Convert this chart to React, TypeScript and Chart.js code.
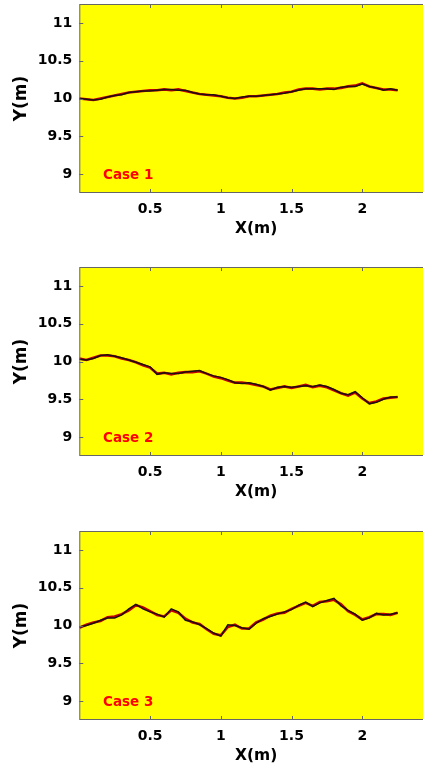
import React, { useEffect, useRef } from 'react';
import { Chart, registerables } from 'chart.js';

Chart.register(...registerables);

// ---------- data ----------
const X_M = [
  0.0, 0.05, 0.1, 0.15, 0.2, 0.25, 0.3, 0.35, 0.4, 0.45,
  0.5, 0.55, 0.6, 0.65, 0.7, 0.75, 0.8, 0.85, 0.9, 0.95,
  1.0, 1.05, 1.1, 1.15, 1.2, 1.25, 1.3, 1.35, 1.4, 1.45,
  1.5, 1.55, 1.6, 1.65, 1.7, 1.75, 1.8, 1.85, 1.9, 1.95,
  2.0, 2.05, 2.1, 2.15, 2.2, 2.25,
];

const CASE1_EST = [
  10.0, 9.99, 9.98, 9.99, 10.02, 10.04, 10.05, 10.08, 10.09, 10.1,
  10.1, 10.11, 10.12, 10.12, 10.11, 10.11, 10.08, 10.06, 10.05, 10.05,
  10.03, 10.01, 10.0, 10.02, 10.03, 10.03, 10.04, 10.05, 10.06, 10.07,
  10.09, 10.11, 10.13, 10.13, 10.13, 10.13, 10.12, 10.15, 10.16, 10.16,
  10.19, 10.16, 10.14, 10.11, 10.13, 10.11,
];
const CASE1_TRUE = [
  10.0, 9.99, 9.98, 10.0, 10.02, 10.04, 10.06, 10.08, 10.09, 10.1,
  10.11, 10.11, 10.12, 10.11, 10.12, 10.1, 10.08, 10.06, 10.05, 10.04,
  10.03, 10.01, 10.0, 10.01, 10.03, 10.03, 10.04, 10.05, 10.06, 10.08,
  10.09, 10.12, 10.13, 10.13, 10.12, 10.13, 10.13, 10.14, 10.16, 10.17,
  10.2, 10.16, 10.14, 10.12, 10.12, 10.11,
];

const CASE2_EST = [
  10.03, 10.02, 10.04, 10.08, 10.09, 10.07, 10.05, 10.02, 9.99, 9.96,
  9.93, 9.83, 9.85, 9.84, 9.84, 9.86, 9.87, 9.88, 9.84, 9.81,
  9.79, 9.76, 9.72, 9.71, 9.72, 9.7, 9.67, 9.62, 9.66, 9.67,
  9.66, 9.67, 9.68, 9.67, 9.69, 9.67, 9.63, 9.58, 9.56, 9.6,
  9.52, 9.44, 9.46, 9.5, 9.53, 9.53,
];
const CASE2_TRUE = [
  10.04, 10.02, 10.05, 10.08, 10.08, 10.07, 10.04, 10.02, 9.99, 9.95,
  9.92, 9.84, 9.85, 9.83, 9.85, 9.86, 9.86, 9.87, 9.84, 9.8,
  9.78, 9.75, 9.72, 9.72, 9.71, 9.69, 9.67, 9.63, 9.65, 9.67,
  9.65, 9.67, 9.69, 9.66, 9.68, 9.66, 9.62, 9.58, 9.55, 9.59,
  9.51, 9.45, 9.47, 9.51, 9.52, 9.53,
];

const CASE3_EST = [
  9.98, 10.0, 10.03, 10.07, 10.1, 10.1, 10.14, 10.22, 10.28, 10.22,
  10.18, 10.15, 10.11, 10.22, 10.18, 10.07, 10.05, 10.01, 9.96, 9.9,
  9.86, 10.01, 10.0, 9.97, 9.95, 10.03, 10.09, 10.12, 10.15, 10.18,
  10.21, 10.27, 10.31, 10.25, 10.3, 10.33, 10.36, 10.26, 10.2, 10.15,
  10.07, 10.1, 10.16, 10.14, 10.15, 10.17,
];
const CASE3_TRUE = [
  9.97, 10.01, 10.04, 10.06, 10.11, 10.12, 10.15, 10.2, 10.27, 10.24,
  10.19, 10.14, 10.12, 10.2, 10.17, 10.09, 10.04, 10.02, 9.95, 9.89,
  9.87, 9.98, 10.01, 9.96, 9.96, 10.04, 10.08, 10.13, 10.16, 10.17,
  10.22, 10.26, 10.3, 10.26, 10.31, 10.32, 10.34, 10.28, 10.19, 10.14,
  10.08, 10.11, 10.15, 10.15, 10.14, 10.17,
];

const CASE_LABELS = ['Case 1', 'Case 2', 'Case 3'];
const EST_SERIES = [CASE1_EST, CASE2_EST, CASE3_EST];
const TRUE_SERIES = [CASE1_TRUE, CASE2_TRUE, CASE3_TRUE];

const X_TICKS = [0.5, 1, 1.5, 2];
const Y_TICKS = [9, 9.5, 10, 10.5, 11];
const X_RANGE = [0, 2.5];
const Y_RANGE = [8.75, 11.25];
const LABEL_POS = { x: 0.168, y: 8.94 };

// ---------- styling ----------
const FONT = "'DejaVu Sans', 'Liberation Sans', sans-serif";
const CANVAS_W = 436;
const CANVAS_H = 240;
const PANEL_TOPS = [0, 263, 527];

const zeroPadding = (axis: any) => {
  axis.paddingTop = 0;
  axis.paddingBottom = 0;
  axis.paddingLeft = 0;
  axis.paddingRight = 0;
};

const decoPlugin = {
  id: 'panelDeco',
  beforeDatasetsDraw(chart: any) {
    const { ctx, chartArea: a } = chart;
    ctx.save();
    ctx.fillStyle = '#ffff00';
    ctx.fillRect(a.left, a.top, a.right - a.left, a.bottom - a.top);
    ctx.restore();
  },
  afterDatasetsDraw(chart: any, _args: any, opts: any) {
    const { ctx, chartArea: a, scales } = chart;
    const xs = scales.x;
    const ys = scales.y;
    ctx.save();
    ctx.strokeStyle = '#666666';
    ctx.lineWidth = 1;
    ctx.strokeRect(a.left + 0.5, a.top + 0.5, a.right - a.left - 1, a.bottom - a.top - 1);
    const tl = 4;
    ctx.beginPath();
    xs.ticks.forEach((t: any) => {
      const px = Math.round(xs.getPixelForValue(t.value)) + 0.5;
      ctx.moveTo(px, a.bottom);
      ctx.lineTo(px, a.bottom - tl);
      ctx.moveTo(px, a.top);
      ctx.lineTo(px, a.top + tl);
    });
    ys.ticks.forEach((t: any) => {
      const py = Math.round(ys.getPixelForValue(t.value)) + 0.5;
      ctx.moveTo(a.left, py);
      ctx.lineTo(a.left + tl, py);
    });
    ctx.stroke();
    // case label
    ctx.fillStyle = '#ff0000';
    ctx.font = `bold 13.5px ${FONT}`;
    ctx.textAlign = 'left';
    ctx.textBaseline = 'alphabetic';
    ctx.fillText(opts.label, xs.getPixelForValue(LABEL_POS.x), ys.getPixelForValue(LABEL_POS.y));
    ctx.restore();
  },
};

function Panel({ index }: { index: number }) {
  const ref = useRef<HTMLCanvasElement | null>(null);

  useEffect(() => {
    if (!ref.current) return;
    const est = EST_SERIES[index];
    const tru = TRUE_SERIES[index];
    const chart = new Chart(ref.current, {
      type: 'line',
      data: {
        datasets: [
          {
            label: 'estimated',
            data: X_M.map((x, i) => ({ x, y: est[i] })),
            borderColor: '#1a1010',
            borderWidth: 1.5,
            pointRadius: 0,
            fill: false,
          },
          {
            label: 'true',
            data: X_M.map((x, i) => ({ x, y: tru[i] })),
            borderColor: '#c00000',
            borderWidth: 2.6,
            pointRadius: 0,
            fill: false,
          },
        ],
      },
      options: {
        responsive: false,
        animation: false,
        events: [],
        layout: { padding: { top: 4, left: 0, right: 3, bottom: 0 } },
        plugins: {
          legend: { display: false },
          tooltip: { enabled: false },
          panelDeco: { label: CASE_LABELS[index] },
        } as any,
        scales: {
          x: {
            type: 'linear',
            min: X_RANGE[0],
            max: X_RANGE[1],
            afterBuildTicks: (axis: any) => {
              axis.ticks = X_TICKS.map((v) => ({ value: v }));
            },
            afterFit: (axis: any) => {
              axis.height = CANVAS_H - 193;
              zeroPadding(axis);
            },
            grid: { display: false, drawTicks: false },
            border: { display: false },
            ticks: {
              color: '#000',
              padding: 8,
              maxRotation: 0,
              autoSkip: false,
              font: { family: FONT, size: 14, weight: 'bold' },
              callback: (v: any) => String(v),
            },
            title: {
              display: true,
              text: 'X(m)',
              color: '#000',
              font: { family: FONT, size: 15.5, weight: 'bold', lineHeight: 1.2 },
              padding: { top: 0, bottom: 2 },
            },
          },
          y: {
            type: 'linear',
            min: Y_RANGE[0],
            max: Y_RANGE[1],
            afterBuildTicks: (axis: any) => {
              axis.ticks = Y_TICKS.map((v) => ({ value: v }));
            },
            afterFit: (axis: any) => {
              axis.width = 79.3;
              zeroPadding(axis);
            },
            grid: { display: false, drawTicks: false },
            border: { display: false },
            ticks: {
              color: '#000',
              padding: 7,
              autoSkip: false,
              font: { family: FONT, size: 14, weight: 'bold' },
              callback: (v: any) => String(v),
            },
            title: {
              display: true,
              text: 'Y(m)',
              color: '#000',
              font: { family: FONT, size: 17, weight: 'bold', lineHeight: 1.2 },
              padding: { top: 11, bottom: 0 },
            },
          },
        },
      },
      plugins: [decoPlugin],
    } as any);
    return () => chart.destroy();
  }, [index]);

  return (
    <canvas
      ref={ref}
      width={CANVAS_W}
      height={CANVAS_H}
      style={{ position: 'absolute', left: 0, top: PANEL_TOPS[index], width: CANVAS_W, height: CANVAS_H }}
    />
  );
}

export default function App() {
  return (
    <div
      style={{
        position: 'absolute',
        left: 0,
        top: 0,
        width: 423,
        height: 772,
        overflow: 'hidden',
        background: '#ffffff',
      }}
    >
      {CASE_LABELS.map((_, i) => (
        <Panel key={i} index={i} />
      ))}
    </div>
  );
}
